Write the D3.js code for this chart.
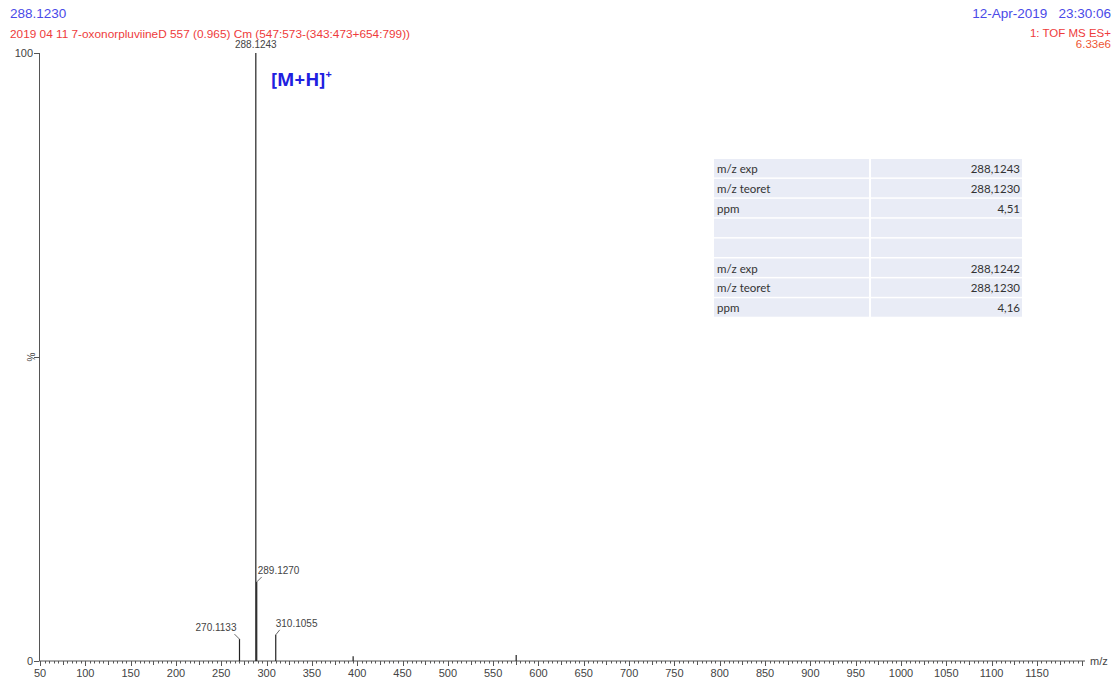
<!DOCTYPE html>
<html><head><meta charset="utf-8">
<script src="https://cdn.jsdelivr.net/npm/d3@7"></script>
<style>
body{margin:0;background:#fff;}
svg{display:block;}
</style></head>
<body>
<svg id="chart" width="1115" height="681"></svg>
<script>
// ---- data ----
const peakMz = [270.1133, 288.1243, 289.1270, 310.1055, 395.5, 575.4];
const peakIntensity = [3.6, 100, 13.0, 4.3, 0.8, 1.0];
const peakLabels = ["270.1133", "288.1243", "289.1270", "310.1055", "", ""];
const xTickLabels = [50,100,150,200,250,300,350,400,450,500,550,600,650,700,750,800,850,900,950,1000,1050,1100,1150];
const yTickLabels = ["0", "%", "100"];
const yTickValues = [0, 50, 100];
const tableLabels = ["m/z exp", "m/z teoret", "ppm", "", "", "m/z exp", "m/z teoret", "ppm"];
const tableValues = ["288,1243", "288,1230", "4,51", "", "", "288,1242", "288,1230", "4,16"];
const headerLeft1 = "288.1230";
const headerLeft2 = "2019 04 11 7-oxonorpluviineD 557 (0.965) Cm (547:573-(343:473+654:799))";
const headerRight1 = "12-Apr-2019   23:30:06";
const headerRight2 = "1: TOF MS ES+";
const headerRight3 = "6.33e6";

// ---- layout ----
const svg = d3.select("#chart");
const x = d3.scaleLinear().domain([50, 1203]).range([40, 1085]);
const y = d3.scaleLinear().domain([0, 100]).range([661, 53]);
const axisColor = "#555";
const font = "'Liberation Sans', Arial, sans-serif";

// headers
svg.append("text").attr("x", 10).attr("y", 18).attr("font-family", font).attr("font-size", 13.5)
  .attr("fill", "#4a4ae8").text(headerLeft1);
svg.append("text").attr("x", 10).attr("y", 38).attr("font-family", font).attr("font-size", 11.5)
  .attr("fill", "#ee3b3b").attr("textLength", 400).attr("lengthAdjust", "spacingAndGlyphs").text(headerLeft2);
svg.append("text").attr("x", 1111).attr("y", 18).attr("font-family", font).attr("font-size", 13.5)
  .attr("text-anchor", "end").attr("fill", "#4a4ae8").style("white-space", "pre").text(headerRight1);
svg.append("text").attr("x", 1111).attr("y", 37).attr("font-family", font).attr("font-size", 11.5)
  .attr("text-anchor", "end").attr("fill", "#ee3b3b").text(headerRight2);
svg.append("text").attr("x", 1111).attr("y", 48).attr("font-family", font).attr("font-size", 11.5)
  .attr("text-anchor", "end").attr("fill", "#ee5533").text(headerRight3);

// x axis (minor every 5, medium every 25, major every 50)
const gx = svg.append("g").attr("transform", "translate(0,661)");
gx.append("line").attr("x1", x(50)).attr("x2", x(1203)).attr("stroke", axisColor).attr("stroke-width", 1);
const minorTicks = d3.range(50, 1201, 5);
gx.selectAll("line.tk").data(minorTicks).join("line").attr("class", "tk")
  .attr("x1", d => Math.round(x(d)) + 0.5).attr("x2", d => Math.round(x(d)) + 0.5)
  .attr("y1", 0).attr("y2", d => d % 50 === 0 ? 5 : (d % 25 === 0 ? 4 : 2.5))
  .attr("stroke", axisColor).attr("stroke-width", 1);
gx.selectAll("text.tl").data(xTickLabels).join("text").attr("class", "tl")
  .attr("x", d => x(d)).attr("y", 16).attr("text-anchor", "middle")
  .attr("font-family", font).attr("font-size", 11).attr("fill", "#444").text(d => d);
svg.append("text").attr("x", 1090).attr("y", 665).attr("font-family", font).attr("font-size", 11)
  .attr("fill", "#444").text("m/z");

// y axis
svg.append("line").attr("x1", 39.5).attr("x2", 39.5).attr("y1", y(100)).attr("y2", y(0))
  .attr("stroke", axisColor).attr("stroke-width", 1);
svg.selectAll("line.yt").data(yTickValues).join("line").attr("class", "yt")
  .attr("x1", 34).attr("x2", 39.5).attr("y1", d => Math.round(y(d)) + 0.5).attr("y2", d => Math.round(y(d)) + 0.5)
  .attr("stroke", axisColor);
yTickValues.forEach((v, i) => {
  if (yTickLabels[i] === "%") {
    svg.append("text").attr("transform", `translate(35,${y(v)}) rotate(-90)`).attr("text-anchor", "middle")
      .attr("font-family", font).attr("font-size", 10).attr("fill", "#444").text("%");
  } else {
    svg.append("text").attr("x", 33).attr("y", y(v) + 4).attr("text-anchor", "end")
      .attr("font-family", font).attr("font-size", 11).attr("fill", "#444").text(yTickLabels[i]);
  }
});

// peaks
const peaks = peakMz.map((m, i) => ({mz: m, inten: peakIntensity[i], label: peakLabels[i]}));
svg.selectAll("line.pk").data(peaks).join("line").attr("class", "pk")
  .attr("x1", d => x(d.mz)).attr("x2", d => x(d.mz))
  .attr("y1", y(0)).attr("y2", d => y(d.inten))
  .attr("stroke", "#222").attr("stroke-width", 1.2);

// peak labels with leaders
const labelOffsets = {
  "288.1243": {dy: -5, leader: false},
  "289.1270": {leader: true, lx: 5, ly: -5, anchor: "start"},
  "270.1133": {leader: true, lx: -5, ly: -5, anchor: "end"},
  "310.1055": {leader: true, lx: 4, ly: -5, anchor: "start"}
};
peaks.filter(p => p.label).forEach(p => {
  const o = labelOffsets[p.label];
  const px = x(p.mz), py = y(p.inten);
  if (o.leader) {
    svg.append("line").attr("x1", px).attr("y1", py).attr("x2", px + o.lx).attr("y2", py + o.ly)
      .attr("stroke", "#444").attr("stroke-width", 0.8);
    const tx = o.anchor === "end" ? px + o.lx + 2 : px + o.lx - 4;
    svg.append("text").attr("x", tx).attr("y", py + o.ly - 3).attr("text-anchor", o.anchor)
      .attr("font-family", font).attr("font-size", 10).attr("fill", "#444").text(p.label);
  } else {
    svg.append("text").attr("x", px).attr("y", py + o.dy).attr("text-anchor", "middle")
      .attr("font-family", font).attr("font-size", 10).attr("fill", "#444").text(p.label);
  }
});

// [M+H]+ annotation
const ann = svg.append("text").attr("x", 271).attr("y", 86).attr("font-family", "'Open Sans', sans-serif")
  .attr("font-size", 18.5).attr("font-weight", "bold").attr("fill", "#2020e0");
ann.append("tspan").text("[M+H]");
ann.append("tspan").attr("dy", -8).attr("font-size", 11).text("+");

// table
const tx0 = 714, tx1 = 1022, tcol = 870, ty0 = 159, rh = 19.9;
const tg = svg.append("g");
tableLabels.forEach((lab, i) => {
  const ry = ty0 + i * rh;
  tg.append("rect").attr("x", tx0).attr("y", ry).attr("width", tcol - tx0 - 1).attr("height", rh - 1.5).attr("fill", "#e9ecf6");
  tg.append("rect").attr("x", tcol + 1).attr("y", ry).attr("width", tx1 - tcol - 1).attr("height", rh - 1.5).attr("fill", "#e9ecf6");
  tg.append("text").attr("x", tx0 + 3).attr("y", ry + 14).attr("font-family", "Lato, 'Open Sans', sans-serif")
    .attr("font-size", 11.5).attr("fill", "#333").text(lab);
  tg.append("text").attr("x", tx1 - 2).attr("y", ry + 14).attr("text-anchor", "end").attr("font-family", "Lato, 'Open Sans', sans-serif")
    .attr("font-size", 11.5).attr("fill", "#333").text(tableValues[i]);
});
</script>
</body></html>
